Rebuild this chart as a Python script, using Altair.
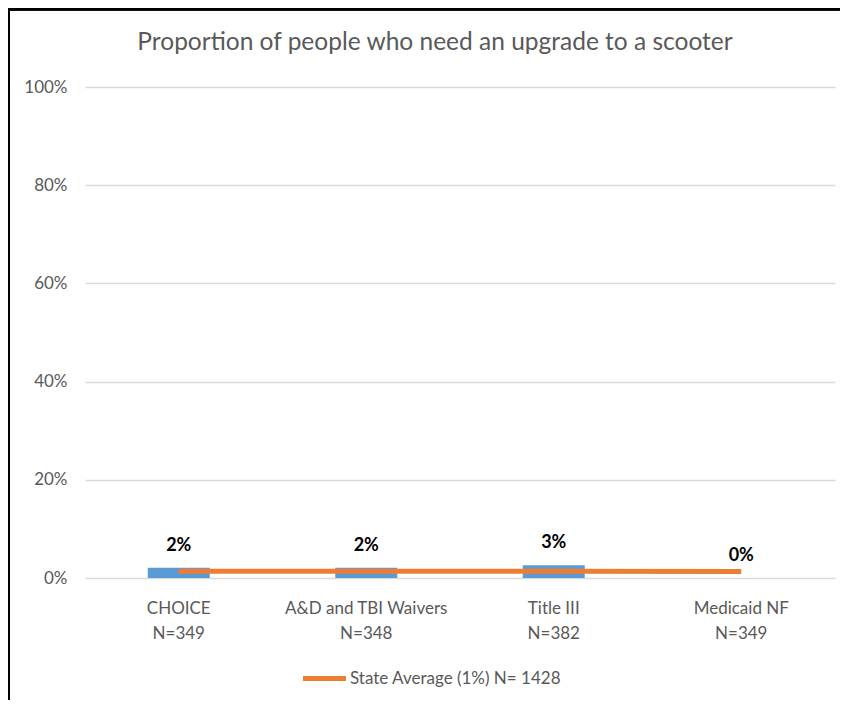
import altair as alt
import pandas as pd

categories = ["CHOICE", "A&D and TBI Waivers", "Title III", "Medicaid NF"]
n_values = [349, 348, 382, 349]
bar_values = [0.021, 0.021, 0.026, 0.0]
bar_labels = ["2%", "2%", "3%", "0%"]
avg_values = [0.0135, 0.0135, 0.0135, 0.0130]
avg_name = "State Average (1%) N= 1428"

df = pd.DataFrame({
    "cat": [f"{c}|N={n}" for c, n in zip(categories, n_values)],
    "val": bar_values,
    "lab": bar_labels,
    "avg": avg_values,
    "series": [avg_name] * len(categories),
})

FONT = "Lato"
GREY = "#595959"
order = list(df["cat"])

x = alt.X("cat:N", sort=order, title=None,
          scale=alt.Scale(paddingInner=0, paddingOuter=0),
          axis=alt.Axis(labelExpr="split(datum.label, '|')", labelAngle=0,
                        labelFont=FONT, labelFontSize=17, labelColor=GREY,
                        labelLineHeight=25, labelPadding=22, ticks=False,
                        domain=False, labelBaseline="top"))
y = alt.Y("val:Q", title=None,
          scale=alt.Scale(domain=[0, 1]),
          axis=alt.Axis(format=".0%", values=[0, 0.2, 0.4, 0.6, 0.8, 1.0],
                        labelFont=FONT, labelFontSize=17, labelColor=GREY,
                        labelPadding=18, ticks=False, domain=False,
                        gridColor="#D9D9D9", gridWidth=1.5))

bars = alt.Chart(df).mark_bar(size=62, color="#5B9BD5").encode(x=x, y=y)

text = alt.Chart(df).mark_text(baseline="bottom", dy=-13, font=FONT,
                               fontSize=18, fontWeight="bold", color="#000000").encode(
    x=alt.X("cat:N", sort=order), y=alt.Y("val:Q"), text="lab:N")

line = alt.Chart(df).mark_line(strokeWidth=5).encode(
    x=alt.X("cat:N", sort=order),
    y=alt.Y("avg:Q"),
    color=alt.Color("series:N",
                    scale=alt.Scale(domain=[avg_name], range=["#ED7D31"]),
                    legend=alt.Legend(title=None, orient="none", legendX=215, legendY=567,
                                      symbolType="stroke", symbolSize=1850,
                                      symbolStrokeWidth=5, labelFont=FONT,
                                      labelFontSize=17, labelColor=GREY,
                                      labelOffset=1, labelLimit=400)))

border_left = alt.Chart(df).mark_rule(color="#000000", strokeWidth=2.5).encode(
    x=alt.value(-76.5), y=alt.value(-78), y2=alt.value(630))
border_top = alt.Chart(df).mark_rule(color="#000000", strokeWidth=3).encode(
    x=alt.value(-77), x2=alt.value(760), y=alt.value(-78))

chart = alt.layer(bars, line, text, border_left, border_top).properties(
    width=750, height=491,
    title=alt.TitleParams("Proportion of people who need an upgrade to a scooter",
                          font=FONT, fontSize=24.5, fontWeight="normal", color=GREY,
                          anchor="middle", dx=-25, offset=-48),
    autosize=alt.AutoSizeParams(type="none"),
    padding={"left": 77, "top": 79, "right": 5, "bottom": 122},
).configure_view(stroke=None)

chart.save("out.html", embed_options={"renderer": "svg", "actions": False})
